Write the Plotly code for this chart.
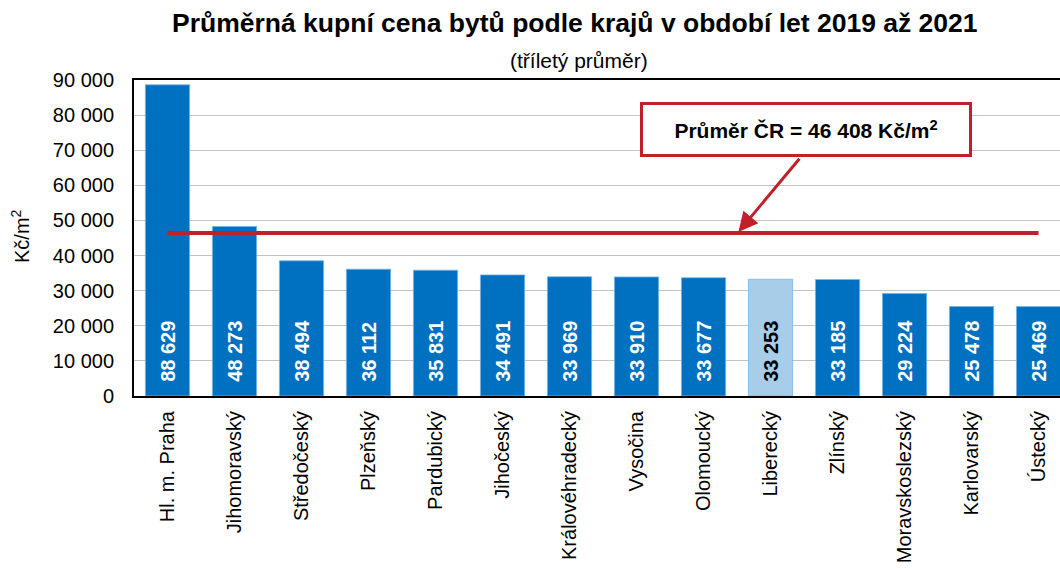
import plotly.graph_objects as go

regions = ["Hl. m. Praha", "Jihomoravský", "Středočeský", "Plzeňský", "Pardubický",
           "Jihočeský", "Královéhradecký", "Vysočina", "Olomoucký", "Liberecký",
           "Zlínský", "Moravskoslezský", "Karlovarský", "Ústecký"]
prices = [88629, 48273, 38494, 36112, 35831, 34491, 33969, 33910, 33677, 33253,
          33185, 29224, 25478, 25469]
avg_cr = 46408
highlight = "Liberecký"

y_ticks = [0, 10000, 20000, 30000, 40000, 50000, 60000, 70000, 80000, 90000]
y_tick_text = ["0", "10 000", "20 000", "30 000", "40 000", "50 000", "60 000",
               "70 000", "80 000", "90 000"]

def fmt(v):
    return f"{v:,}".replace(",", " ")

FONT = "Liberation Sans, Arial"
BLUE = "#0070C0"
LIGHT = "#A8CDE9"
RED = "#C0202A"

colors = [LIGHT if r == highlight else BLUE for r in regions]
txt_colors = ["black" if r == highlight else "white" for r in regions]
xs = list(range(len(regions)))

W, H = 1060, 569
L, R, T, B = 134, 0, 80, 173
PW, PH = W - L - R, H - T - B

def px_x(p):
    return (p - L) / PW

def px_y(p):
    return (H - B - p) / PH

fig = go.Figure()
fig.add_trace(go.Bar(
    x=xs, y=prices, width=0.66,
    marker=dict(color=colors, line=dict(color="rgba(120,180,230,0.8)", width=1)),
    text=["\u00a0\u00a0<b>" + fmt(v) + "</b>" for v in prices],
    textposition="inside", insidetextanchor="start", textangle=-90,
    textfont=dict(family=FONT, size=20, color=txt_colors),
    insidetextfont=dict(family=FONT, size=20, color=txt_colors),
    constraintext="none", cliponaxis=False, hoverinfo="skip",
))
fig.add_trace(go.Scatter(
    x=[xs[0], xs[-1]], y=[avg_cr, avg_cr], mode="lines",
    line=dict(color=RED, width=4), hoverinfo="skip",
))

# arrow from the box to the average line
fig.add_annotation(
    x=8.52, y=avg_cr + 300, xref="x", yref="y",
    ax=9.45, ay=68000, axref="x", ayref="y",
    text="", showarrow=True, arrowhead=2, arrowsize=1.3, arrowwidth=3,
    arrowcolor=RED, standoff=0,
)
fig.add_annotation(
    x=9.53, y=75800, xref="x", yref="y",
    text="<b>Průměr ČR = " + fmt(avg_cr) + " Kč/m<sup>2</sup></b>",
    showarrow=False, font=dict(family=FONT, size=21, color="black"),
    bgcolor="white", bordercolor=RED, borderwidth=3, borderpad=10,
    width=306, height=29,
)

# title and subtitle
fig.add_annotation(
    x=px_x(575), y=px_y(23), xref="paper", yref="paper",
    text="<b>Průměrná kupní cena bytů podle krajů v období let 2019 až 2021</b>",
    showarrow=False, xanchor="center", yanchor="middle",
    font=dict(family=FONT, size=26.5, color="black"),
)
fig.add_annotation(
    x=px_x(579), y=px_y(60), xref="paper", yref="paper",
    text="(tříletý průměr)",
    showarrow=False, xanchor="center", yanchor="middle",
    font=dict(family=FONT, size=21, color="black"),
)
# y axis title
fig.add_annotation(
    x=px_x(20), y=px_y(236), xref="paper", yref="paper",
    text="Kč/m<sup>2</sup>", textangle=-90,
    showarrow=False, xanchor="center", yanchor="middle",
    font=dict(family=FONT, size=20, color="black"),
)

fig.update_layout(
    width=W, height=H,
    margin=dict(l=L, r=R, t=T, b=B, autoexpand=False),
    paper_bgcolor="white", plot_bgcolor="white",
    showlegend=False,
    font=dict(family=FONT, size=20, color="black"),
    xaxis=dict(
        range=[-0.5, 13.32], tickmode="array", tickvals=xs, ticktext=regions,
        tickangle=-90, showline=True, linecolor="black", linewidth=2, mirror=True,
        showgrid=False, ticks="", tickfont=dict(size=20), automargin=False,
        ticklabelstandoff=5, fixedrange=True,
    ),
    yaxis=dict(
        range=[0, 90000], tickmode="array", tickvals=y_ticks, ticktext=y_tick_text,
        showline=True, linecolor="black", linewidth=2, showgrid=True,
        gridcolor="#C4C4C4", gridwidth=1, ticks="", tickfont=dict(size=20),
        ticklabelstandoff=14, zeroline=False, automargin=False,
    ),
)

fig.write_html("out.html", config={"displayModeBar": False},
               post_script="document.body.style.margin='0';")
